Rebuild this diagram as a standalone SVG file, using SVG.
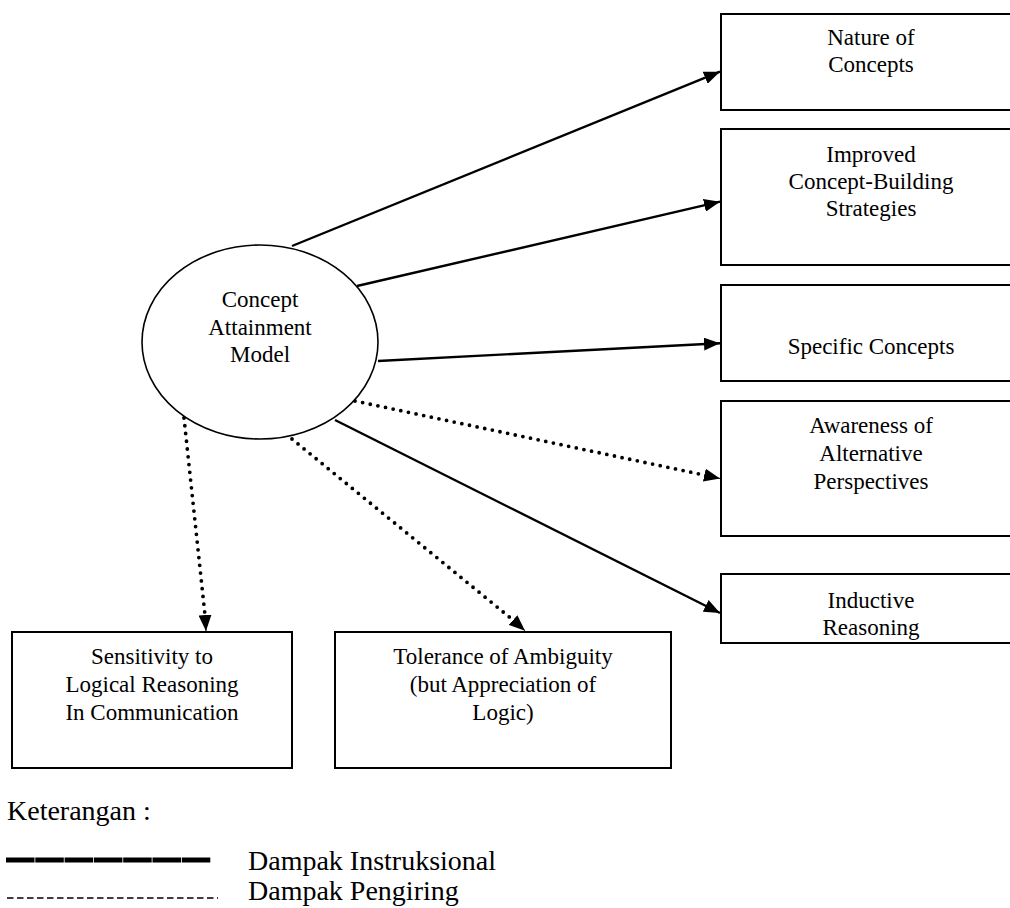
<svg xmlns="http://www.w3.org/2000/svg" width="1010" height="908" viewBox="0 0 1010 908">
<style>
.box{fill:#fff;stroke:#000;stroke-width:2}
.ell{fill:#fff;stroke:#000;stroke-width:1.6}
.t{font-family:"Liberation Serif","Times New Roman",serif;font-size:23px;fill:#000;text-anchor:middle}
.lg{font-family:"Liberation Serif","Times New Roman",serif;font-size:28px;fill:#000}
.solid{stroke:#000;stroke-width:2.4;fill:none}
.dot{stroke:#000;stroke-width:3.8;fill:none;stroke-dasharray:0 7.8;stroke-linecap:round}
</style>
<defs>
<marker id="ah" markerUnits="userSpaceOnUse" markerWidth="17" markerHeight="13" refX="16" refY="6.5" orient="auto">
<path d="M0,0 L16,6.5 L0,13 z" fill="#000"/>
</marker>
</defs>
<rect width="1010" height="908" fill="#fff"/>
<g id="connectors">
<line class="solid" x1="292" y1="246" x2="720" y2="71.7" marker-end="url(#ah)"/>
<line class="solid" x1="357" y1="286" x2="720" y2="201.7" marker-end="url(#ah)"/>
<line class="solid" x1="378" y1="361" x2="720" y2="343.3" marker-end="url(#ah)"/>
<line class="dot" x1="355" y1="401" x2="704" y2="475"/>
<line x1="704" y1="475" x2="720" y2="478.5" stroke="#000" stroke-width="1" marker-end="url(#ah)"/>
<line class="solid" x1="335" y1="420" x2="720" y2="613" marker-end="url(#ah)"/>
<line class="dot" x1="184" y1="418" x2="205" y2="615"/>
<line x1="205" y1="615" x2="206" y2="631" stroke="#000" stroke-width="1" marker-end="url(#ah)"/>
<line class="dot" x1="292" y1="439" x2="513" y2="620"/>
<line x1="513" y1="620" x2="525" y2="630.7" stroke="#000" stroke-width="1" marker-end="url(#ah)"/>
</g>
<g id="concept-attainment-model">
<ellipse class="ell" cx="260" cy="342" rx="118" ry="97"/>
<text class="t" x="260" y="307">Concept</text>
<text class="t" x="260" y="335">Attainment</text>
<text class="t" x="260" y="362">Model</text>
</g>
<g id="nature-of-concepts">
<rect class="box" x="721" y="14" width="310" height="96"/>
<text class="t" x="871" y="45">Nature of</text>
<text class="t" x="871" y="72">Concepts</text>
</g>
<g id="improved-strategies">
<rect class="box" x="721" y="129" width="310" height="136"/>
<text class="t" x="871" y="162">Improved</text>
<text class="t" x="871" y="189">Concept-Building</text>
<text class="t" x="871" y="216">Strategies</text>
</g>
<g id="specific-concepts">
<rect class="box" x="721" y="285" width="310" height="96"/>
<text class="t" x="871" y="354">Specific Concepts</text>
</g>
<g id="awareness">
<rect class="box" x="721" y="401" width="310" height="135"/>
<text class="t" x="871" y="433">Awareness of</text>
<text class="t" x="871" y="461">Alternative</text>
<text class="t" x="871" y="489">Perspectives</text>
</g>
<g id="inductive-reasoning">
<rect class="box" x="721" y="574" width="310" height="69"/>
<text class="t" x="871" y="608">Inductive</text>
<text class="t" x="871" y="635">Reasoning</text>
</g>
<g id="sensitivity">
<rect class="box" x="12" y="632" width="280" height="136"/>
<text class="t" x="152" y="664">Sensitivity to</text>
<text class="t" x="152" y="692">Logical Reasoning</text>
<text class="t" x="152" y="720">In Communication</text>
</g>
<g id="tolerance">
<rect class="box" x="335" y="632" width="336" height="136"/>
<text class="t" x="503" y="664">Tolerance of Ambiguity</text>
<text class="t" x="503" y="692">(but Appreciation of</text>
<text class="t" x="503" y="720">Logic)</text>
</g>
<g id="legend">
<text class="lg" x="7" y="820">Keterangan :</text>
<line x1="6" y1="860" x2="211" y2="860" stroke="#000" stroke-width="5" stroke-dasharray="28.5 0.8"/>
<line x1="7" y1="898" x2="218" y2="898" stroke="#000" stroke-width="1.6" stroke-dasharray="6.5 3.5"/>
<text class="lg" x="248" y="870">Dampak Instruksional</text>
<text class="lg" x="248" y="900">Dampak Pengiring</text>
</g>
</svg>
